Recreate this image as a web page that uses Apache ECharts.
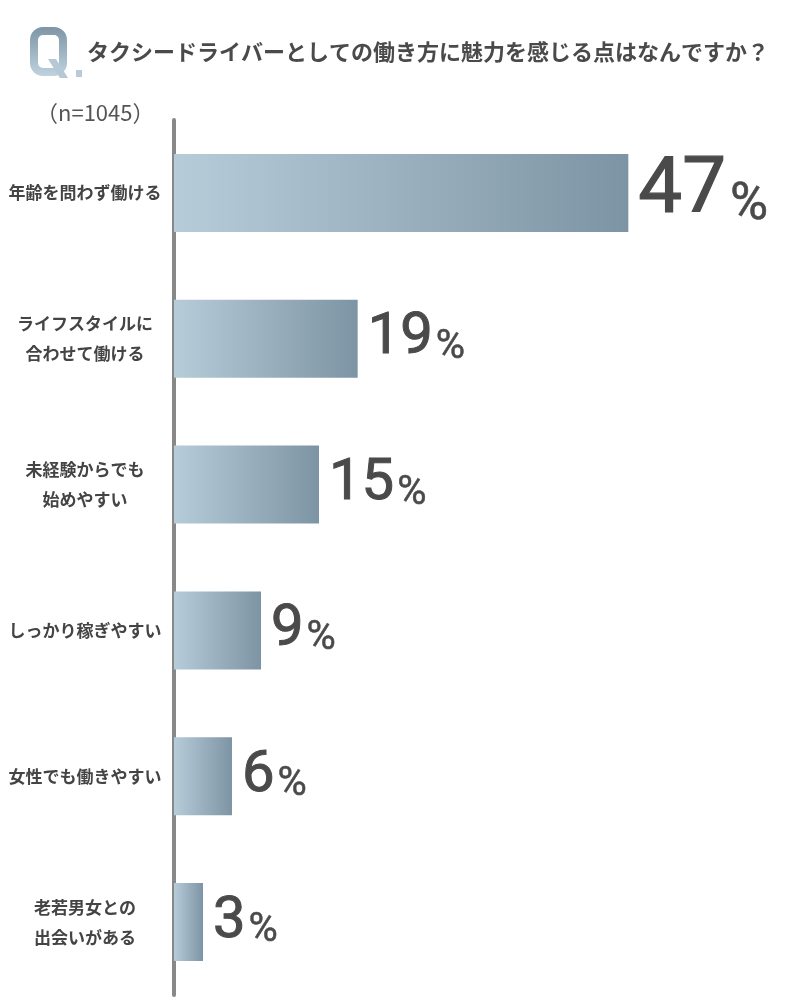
<!DOCTYPE html>
<html>
<head>
<meta charset="utf-8">
<script src="https://cdn.jsdelivr.net/npm/echarts@6/dist/echarts.min.js"></script>
<style>
  html, body { margin: 0; padding: 0; background: #fff; }
  #chart { width: 800px; height: 1000px; }
</style>
</head>
<body>
<div id="chart"></div>
<script>
const categories = [
  '年齢を問わず働ける',
  'ライフスタイルに\n合わせて働ける',
  '未経験からでも\n始めやすい',
  'しっかり稼ぎやすい',
  '女性でも働きやすい',
  '老若男女との\n出会いがある'
]
const values = [47, 19, 15, 9, 6, 3]
const questionText = 'タクシードライバーとしての働き方に魅力を感じる点はなんですか？'
const sampleText = '（n=1045）'

const jp = '"Noto Sans CJK JP", "Noto Sans", sans-serif'
const num = 'Roboto, sans-serif'
const ink = '#4a4a4a'

const chart = echarts.init(document.getElementById('chart'))

chart.setOption({
  animation: false,
  backgroundColor: '#fff',
  grid: { left: 174, width: 580, top: 120, height: 875 },
  xAxis: {
    type: 'value',
    min: 0,
    max: 60,
    show: false
  },
  yAxis: {
    type: 'category',
    inverse: true,
    data: categories,
    offset: 2,
    axisLine: { lineStyle: { color: '#888', width: 4 } },
    axisTick: { show: false },
    splitLine: { show: false },
    axisLabel: {
      align: 'center',
      margin: 87,
      fontFamily: jp,
      fontSize: 17,
      fontWeight: 'bold',
      color: '#444',
      lineHeight: 30
    }
  },
  graphic: [
    // "Q." mark: rounded ring + tail, gradient top to bottom
    {
      type: 'rect',
      shape: { x: 34, y: 31, width: 29, height: 41, r: 9 },
      style: {
        fill: 'none',
        lineWidth: 8,
        stroke: new echarts.graphic.LinearGradient(0, 0, 0, 1, [
          { offset: 0, color: '#7d95a6' },
          { offset: 1, color: '#bfd2de' }
        ])
      }
    },
    {
      type: 'polygon',
      shape: { points: [[48, 59], [56, 59], [68, 78], [60, 78]] },
      style: { fill: '#b4c8d5' }
    },
    {
      type: 'rect',
      shape: { x: 76, y: 70, width: 6, height: 7 },
      style: { fill: '#b8ccd8' }
    },
    {
      type: 'text',
      left: 87,
      top: 41,
      style: {
        text: questionText,
        font: 'bold 22px ' + jp,
        fill: ink
      }
    },
    {
      type: 'text',
      left: 36,
      top: 102,
      style: {
        text: sampleText,
        font: '22px ' + jp,
        fill: '#555'
      }
    }
  ],
  series: [
    {
      type: 'bar',
      data: values,
      barWidth: 78,
      itemStyle: {
        color: new echarts.graphic.LinearGradient(0, 0, 1, 0, [
          { offset: 0, color: '#b7ccd9' },
          { offset: 1, color: '#7d94a4' }
        ])
      },
      label: {
        show: true,
        position: 'right',
        distance: 10,
        formatter: p => p.dataIndex === 0
          ? '{big|' + p.value + '}{bigp|%}'
          : '{n|' + p.value + '}{p|%}',
        rich: {
          big: { fontFamily: num, fontSize: 78, lineHeight: 78, color: ink, textBorderColor: ink, textBorderWidth: 1.2, verticalAlign: 'bottom', padding: [16, 0, 0, 0] },
          bigp: { fontFamily: num, fontSize: 52, lineHeight: 52, color: ink, textBorderColor: ink, textBorderWidth: 0.6, verticalAlign: 'bottom', padding: [0, 0, 0, 4] },
          n: { fontFamily: num, fontSize: 58, lineHeight: 58, color: ink, textBorderColor: ink, textBorderWidth: 1, verticalAlign: 'bottom' },
          p: { fontFamily: num, fontSize: 40, lineHeight: 40, color: ink, textBorderColor: ink, textBorderWidth: 0.5, verticalAlign: 'bottom', padding: [0, 0, 0, 3] }
        }
      }
    }
  ]
})
</script>
</body>
</html>
